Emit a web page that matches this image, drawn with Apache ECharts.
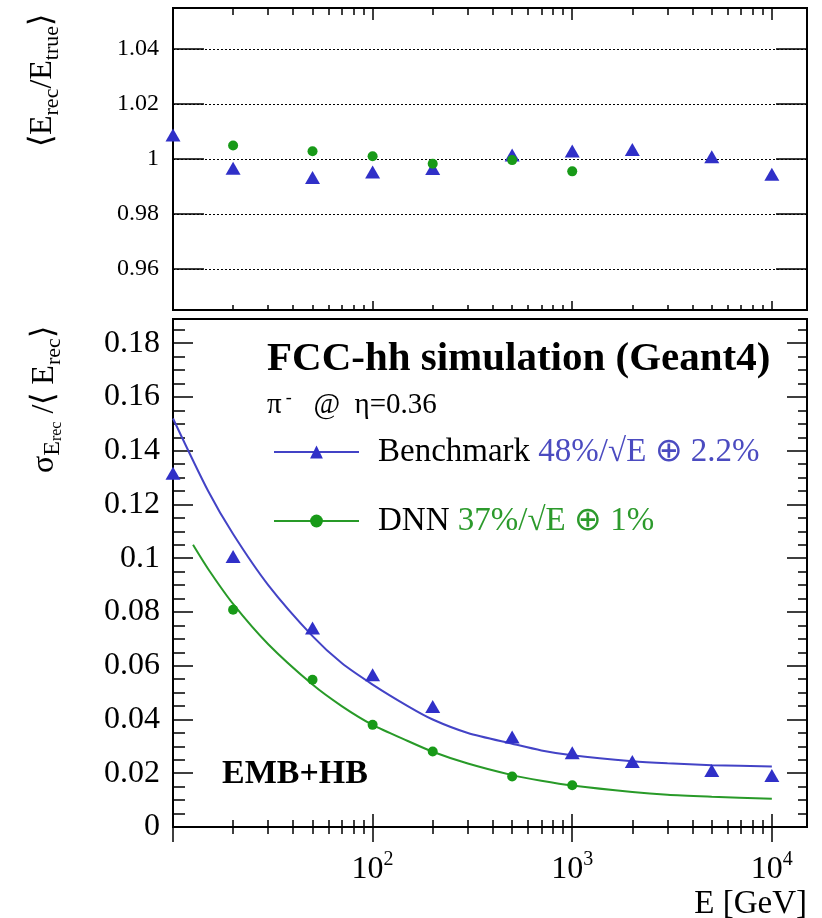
<!DOCTYPE html>
<html><head><meta charset="utf-8">
<script src="https://cdn.jsdelivr.net/npm/echarts@6/dist/echarts.min.js"></script>
<style>html,body{margin:0;padding:0;background:#fff}#c{width:822px;height:918px}</style>
</head><body><div id="c"></div>
<script>
// ---- data ----
const energies = [10, 20, 50, 100, 200, 500, 1000, 2000, 5000, 10000];
const benchRatio = [1.0087, 0.9966, 0.9933, 0.9953, 0.9965, 1.0015, 1.0029, 1.0035, 1.0008, 0.9944];
const dnnEnergies = [20, 50, 100, 200, 500, 1000];
const dnnRatio = [1.0049, 1.0028, 1.0010, 0.9983, 0.9996, 0.9955];
const benchSigma = [0.1316, 0.1006, 0.0740, 0.0566, 0.0448, 0.0335, 0.0276, 0.0244, 0.0210, 0.0192];
const dnnSigma = [0.0808, 0.0548, 0.0380, 0.0281, 0.0188, 0.0155];
const benchFitE = [10, 15, 20, 30, 50, 70, 100, 150, 200, 300, 500, 700, 1000, 2000, 3000, 5000, 10000];
const benchFitV = [0.152, 0.125, 0.109, 0.090, 0.071, 0.061, 0.053, 0.045, 0.040, 0.035, 0.031, 0.0285, 0.0267, 0.0245, 0.0237, 0.023, 0.0225];
const dnnFitE = [12.6, 15, 20, 30, 50, 70, 100, 150, 200, 300, 500, 700, 1000, 2000, 3000, 5000, 10000];
const dnnFitV = [0.105, 0.096, 0.083, 0.068, 0.053, 0.045, 0.038, 0.032, 0.028, 0.0236, 0.0193, 0.0172, 0.0154, 0.013, 0.012, 0.0113, 0.0105];
// ---- ticks ----
const xMajorTicks = [10, 100, 1000, 10000];
const xLabelTicks = [100, 1000, 10000];
const xMinorTicks = [20, 30, 40, 50, 60, 70, 80, 90, 200, 300, 400, 500, 600, 700, 800, 900, 2000, 3000, 4000, 5000, 6000, 7000, 8000, 9000];
const ratioTicks = [0.96, 0.98, 1.0, 1.02, 1.04];
const sigmaTicks = [0, 0.02, 0.04, 0.06, 0.08, 0.1, 0.12, 0.14, 0.16, 0.18];
const sigmaMinorTicks = [0.005, 0.01, 0.015, 0.025, 0.03, 0.035, 0.045, 0.05, 0.055, 0.065, 0.07, 0.075, 0.085, 0.09, 0.095, 0.105, 0.11, 0.115, 0.125, 0.13, 0.135, 0.145, 0.15, 0.155, 0.165, 0.17, 0.175, 0.185];

const SERIF = 'Liberation Serif';
const blueM = '#3030c8', blueL = '#4343c6', blueT = '#4b4bc0';
const greenM = '#189a18', greenL = '#289a28', greenT = '#2c9a2c';

const zip = (a, b) => a.map((v, i) => [v, b[i]]);

function xAx(grid, pos, ticks, len, labels) {
  return {
    type: 'log', logBase: 10, gridIndex: grid, position: pos, min: 10, max: 15000,
    axisLine: {show: false},
    axisTick: {show: true, inside: true, length: len, customValues: ticks, lineStyle: {color: '#000', width: 1.5}},
    axisLabel: labels ? {
      show: true, customValues: xLabelTicks, margin: 23,
      formatter: v => '{b|10}{s|' + Math.round(Math.log10(v)) + '}',
      rich: {
        b: {fontFamily: SERIF, fontSize: 32, color: '#000', lineHeight: 40, verticalAlign: 'middle'},
        s: {fontFamily: SERIF, fontSize: 20, color: '#000', lineHeight: 20, verticalAlign: 'top'}
      }
    } : {show: false},
    splitLine: {show: false}, minorTick: {show: false}
  };
}
function yAx(grid, pos, min, max, ticks, len, labels, split) {
  return {
    type: 'value', gridIndex: grid, position: pos, min: min, max: max,
    axisLine: {show: false},
    axisTick: {show: true, inside: true, length: len, customValues: ticks, lineStyle: {color: '#000', width: 1.5}},
    axisLabel: labels ? {
      show: true, customValues: ticks, margin: labels.margin, fontFamily: SERIF, fontSize: labels.size, color: '#000',
      formatter: v => String(Math.round(v * 1000) / 1000)
    } : {show: false},
    splitLine: split ? {show: true, lineStyle: {color: '#000', type: [2, 2], width: 1}} : {show: false},
    minorTick: {show: false}
  };
}

const option = {
  animation: false,
  backgroundColor: '#fff',
  grid: [
    {left: 173, top: 8, width: 634, height: 302, show: true, borderColor: '#000', borderWidth: 2, backgroundColor: 'transparent'},
    {left: 173, top: 319, width: 634, height: 508, show: true, borderColor: '#000', borderWidth: 2, backgroundColor: 'transparent'}
  ],
  xAxis: [
    xAx(0, 'bottom', xMajorTicks, 9, false),
    xAx(0, 'top', xMajorTicks, 12, false),
    xAx(0, 'bottom', xMinorTicks, 5, false),
    xAx(0, 'top', xMinorTicks, 7, false),
    xAx(1, 'bottom', xMajorTicks, 13, true),
    xAx(1, 'top', xMajorTicks, 15, false),
    xAx(1, 'bottom', xMinorTicks, 7, false),
    xAx(1, 'top', xMinorTicks, 7, false)
  ],
  yAxis: [
    yAx(0, 'left', 0.945, 1.055, ratioTicks, 31, {size: 24, margin: 14}, true),
    yAx(0, 'right', 0.945, 1.055, ratioTicks, 31, null, false),
    yAx(1, 'left', 0, 0.189, sigmaTicks, 20, {size: 32, margin: 13}, false),
    yAx(1, 'right', 0, 0.189, sigmaTicks, 20, null, false),
    yAx(1, 'left', 0, 0.189, sigmaMinorTicks, 12, null, false),
    yAx(1, 'right', 0, 0.189, sigmaMinorTicks, 9, null, false)
  ],
  legend: {
    data: ['Benchmark', 'DNN'], orient: 'vertical', left: 273, top: 434, padding: 0,
    itemWidth: 85, itemHeight: 16, itemGap: 33, selectedMode: false,
    textStyle: {fontFamily: SERIF, fontSize: 33, color: '#000', lineHeight: 36,
      rich: {
        n: {fontFamily: SERIF, fontSize: 33, color: '#000', lineHeight: 36, padding: [0, 0, 0, 14]},
        b: {fontFamily: SERIF, fontSize: 33, color: blueT, lineHeight: 36},
        g: {fontFamily: SERIF, fontSize: 33, color: greenT, lineHeight: 36}
      }},
    formatter: n => n === 'Benchmark' ? '{n|Benchmark} {b|48%/√E ⊕ 2.2%}' : '{n|DNN} {g|37%/√E ⊕ 1%}'
  },
  series: [
    {name: 'Benchmark ratio', type: 'scatter', xAxisIndex: 0, yAxisIndex: 0, data: zip(energies, benchRatio),
      symbol: 'triangle', symbolSize: [15, 13], itemStyle: {color: blueM, opacity: 1}, z: 5},
    {name: 'DNN ratio', type: 'scatter', xAxisIndex: 0, yAxisIndex: 0, data: zip(dnnEnergies, dnnRatio),
      symbol: 'circle', symbolSize: 10, itemStyle: {color: greenM, opacity: 1}, z: 6},
    {name: 'Benchmark', type: 'line', xAxisIndex: 4, yAxisIndex: 2, data: zip(benchFitE, benchFitV),
      smooth: 0.25, showSymbol: false, symbol: 'triangle', symbolSize: 12,
      lineStyle: {color: blueL, width: 2}, itemStyle: {color: blueM, opacity: 1}, z: 3},
    {name: 'DNN', type: 'line', xAxisIndex: 4, yAxisIndex: 2, data: zip(dnnFitE, dnnFitV),
      smooth: 0.25, showSymbol: false, symbol: 'circle', symbolSize: 9,
      lineStyle: {color: greenL, width: 2}, itemStyle: {color: greenM, opacity: 1}, z: 3},
    {name: 'Benchmark sigma', type: 'scatter', xAxisIndex: 4, yAxisIndex: 2, data: zip(energies, benchSigma),
      symbol: 'triangle', symbolSize: [15, 13], itemStyle: {color: blueM, opacity: 1}, z: 5},
    {name: 'DNN sigma', type: 'scatter', xAxisIndex: 4, yAxisIndex: 2, data: zip(dnnEnergies, dnnSigma),
      symbol: 'circle', symbolSize: 10, itemStyle: {color: greenM, opacity: 1}, z: 6}
  ],
  graphic: [
    {type: 'text', x: 267, y: 359, style: {text: 'FCC-hh simulation (Geant4)', font: 'bold 41px "Liberation Serif"', fill: '#000', align: 'left', verticalAlign: 'middle'}},
    {type: 'text', x: 267, y: 405, style: {text: '{m|π}{p|-}{m|   @  η=0.36}', align: 'left', verticalAlign: 'middle', fill: '#000',
      rich: {m: {fontFamily: SERIF, fontSize: 29, lineHeight: 32, verticalAlign: 'middle'}, p: {fontFamily: SERIF, fontSize: 18, lineHeight: 18, verticalAlign: 'top', padding: [0, 0, 0, 4]}}}},
    {type: 'text', x: 222, y: 774, style: {text: 'EMB+HB', font: 'bold 34px "Liberation Serif"', fill: '#000', align: 'left', verticalAlign: 'middle'}},
    {type: 'text', x: 807, y: 904, style: {text: 'E [GeV]', font: '33px "Liberation Serif"', fill: '#000', align: 'right', verticalAlign: 'middle'}},
    {type: 'text', x: 43, y: 147, rotation: Math.PI / 2, style: {text: '{m|⟨E}{s|rec}{m|/E}{s|true}{m|⟩}', align: 'left', verticalAlign: 'middle', fill: '#000',
      rich: {m: {fontFamily: SERIF, fontSize: 32, lineHeight: 40, verticalAlign: 'middle'}, s: {fontFamily: SERIF, fontSize: 22, lineHeight: 13, verticalAlign: 'bottom'}}}},
    {type: 'text', x: 45, y: 473, rotation: Math.PI / 2, style: {text: '{m|σ}{s|E}{ss|rec}{m| /⟨ E}{s2|rec}{m|⟩}', align: 'left', verticalAlign: 'middle', fill: '#000',
      rich: {m: {fontFamily: SERIF, fontSize: 32, lineHeight: 40, verticalAlign: 'middle'},
        s: {fontFamily: SERIF, fontSize: 24, lineHeight: 24, verticalAlign: 'bottom'},
        ss: {fontFamily: SERIF, fontSize: 16, lineHeight: 4, verticalAlign: 'bottom'},
        s2: {fontFamily: SERIF, fontSize: 22, lineHeight: 13, verticalAlign: 'bottom'}}}}
  ]
};
const chart = echarts.init(document.getElementById('c'), null, {renderer: 'canvas'});
chart.setOption(option);
</script></body></html>
